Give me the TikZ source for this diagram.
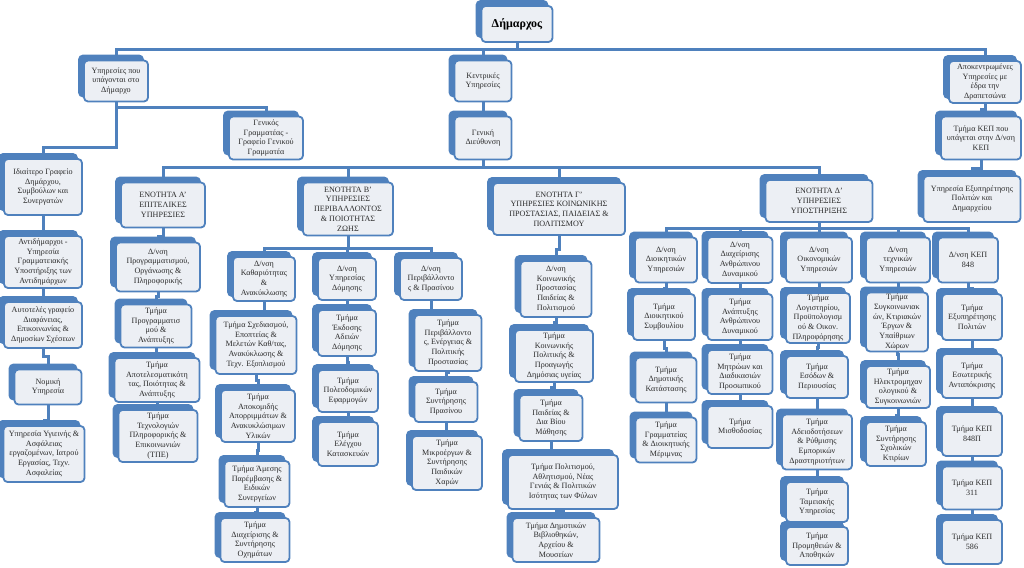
\documentclass[tikz,border=0pt]{standalone}
\usepackage{fontspec}
\setmainfont{Liberation Serif}
\usetikzlibrary{calc,shadows}
\definecolor{steel}{HTML}{4F81BD}
\definecolor{boxfill}{HTML}{ECEFF4}
\definecolor{ink}{HTML}{2B2B2B}
\newcommand{\unitfont}{\fontsize{8.1}{9.7}\selectfont}

\begin{document}
\begin{tikzpicture}[
  x=1pt, y=-1pt,
  unit/.style={draw=steel, fill=boxfill, line width=1.8pt,
               rounded corners=4pt, align=center, inner sep=1.5pt,
               font=\unitfont, text=ink,
               copy shadow={shadow xshift=-5pt, shadow yshift=5pt,
                            fill=steel, draw=steel}},
  head/.style={unit, font=\fontsize{12}{14}\selectfont\bfseries, text=black},
  link/.style={draw=steel, line width=3pt},
  vh/.style={to path={(\tikztostart) |- ($(\tikztostart)!.5!(\tikztotarget)$)
                      -| (\tikztotarget)}},
]
\useasboundingbox (0,0) rectangle (1024,567);

% top levels
\node[head, minimum width=71pt, minimum height=36pt] (dimarchos) at (517,24) {Δήμαρχος};
\node[unit, minimum width=64pt, minimum height=41pt] (ypag) at (116,81)
  {Υπηρεσίες που\\ υπάγονται στο\\ Δήμαρχο};
\node[unit, minimum width=57pt, minimum height=41pt] (kentr) at (483,81)
  {Κεντρικές\\ Υπηρεσίες};
\node[unit, minimum width=72pt, minimum height=42pt] (apok) at (985,82)
  {Αποκεντρωμένες\\ Υπηρεσίες με\\ έδρα την\\ Δραπετσώνα};
\node[unit, minimum width=74pt, minimum height=43pt] (gengram) at (266,138)
  {Γενικός\\ Γραμματέας -\\ Γραφείο Γενικού\\ Γραμματέα};
\node[unit, minimum width=57pt, minimum height=43pt] (gendiey) at (483,138)
  {Γενική\\ Διεύθυνση};
\node[unit, minimum width=80pt, minimum height=43pt] (kepdn) at (981,138)
  {Τμήμα ΚΕΠ που\\ υπάγεται στην Δ/νση\\ ΚΕΠ};
\node[unit, minimum width=97pt, minimum height=46pt] (exyp) at (972,199)
  {Υπηρεσία Εξυπηρέτησης\\ Πολιτών και\\ Δημαρχείου};

% services under the mayor
\node[unit, minimum width=78pt, minimum height=56pt] (idiait) at (43,187)
  {Ιδιαίτερο Γραφείο\\ Δημάρχου,\\ Συμβούλων και\\ Συνεργατών};
\node[unit, minimum width=78pt, minimum height=52pt] (antid) at (43,262)
  {Αντιδήμαρχοι -\\ Υπηρεσία\\ Γραμματειακής\\ Υποστήριξης των\\ Αντιδημάρχων};
\node[unit, minimum width=78pt, minimum height=46pt] (autot) at (43,325)
  {Αυτοτελές γραφείο\\ Διαφάνειας,\\ Επικοινωνίας \&\\ Δημοσίων Σχέσεων};
\node[unit, minimum width=67pt, minimum height=35pt] (nomiki) at (48,387)
  {Νομική\\ Υπηρεσία};
\node[unit, minimum width=81pt, minimum height=56pt] (ygieini) at (44,454)
  {Υπηρεσία Υγιεινής \&\\ Ασφάλειας\\ εργαζομένων, Ιατρού\\ Εργασίας, Τεχν.\\ Ασφαλείας};

% unit A
\node[unit, minimum width=84pt, minimum height=45pt] (enA) at (163,205)
  {ΕΝΟΤΗΤΑ Α'\\ ΕΠΙΤΕΛΙΚΕΣ\\ ΥΠΗΡΕΣΙΕΣ};
\node[unit, minimum width=84pt, minimum height=49pt] (dnprog) at (158,267)
  {Δ/νση\\ Προγραμματισμού,\\ Οργάνωσης \&\\ Πληροφορικής};
\node[unit, minimum width=71pt, minimum height=43pt] (tprog) at (156,326)
  {Τμήμα\\ Προγραμματισ\\ μού \&\\ Ανάπτυξης};
\node[unit, minimum width=85pt, minimum height=44pt] (tapot) at (157,380)
  {Τμήμα\\ Αποτελεσματικότη\\ τας, Ποιότητας \&\\ Ανάπτυξης};
\node[unit, minimum width=79pt, minimum height=52pt] (ttpe) at (158,436)
  {Τμήμα\\ Τεχνολογιών\\ Πληροφορικής \&\\ Επικοινωνιών\\ (ΤΠΕ)};

% unit B
\node[unit, minimum width=90pt, minimum height=53pt] (enB) at (348,209)
  {ΕΝΟΤΗΤΑ Β'\\ ΥΠΗΡΕΣΙΕΣ\\ ΠΕΡΙΒΑΛΛΟΝΤΟΣ\\ \& ΠΟΙΟΤΗΤΑΣ\\ ΖΩΗΣ};
\node[unit, minimum width=62pt, minimum height=44pt] (dnkath) at (264,279)
  {Δ/νση\\ Καθαριότητας\\ \&\\ Ανακύκλωσης};
\node[unit, minimum width=81pt, minimum height=58pt] (tsxed) at (256,345)
  {Τμήμα Σχεδιασμού,\\ Εποπτείας \&\\ Μελετών Καθ/τας,\\ Ανακύκλωσης \&\\ Τεχν. Εξοπλισμού};
\node[unit, minimum width=74pt, minimum height=52pt] (tapok) at (258,416)
  {Τμήμα\\ Αποκομιδής\\ Απορριμμάτων \&\\ Ανακυκλώσιμων\\ Υλικών};
\node[unit, minimum width=65pt, minimum height=46pt] (tames) at (257,484)
  {Τμήμα Άμεσης\\ Παρέμβασης \&\\ Ειδικών\\ Συνεργείων};
\node[unit, minimum width=69pt, minimum height=44pt] (tdiax) at (255,540)
  {Τμήμα\\ Διαχείρισης \&\\ Συντήρησης\\ Οχημάτων};
\node[unit, minimum width=58pt, minimum height=42pt] (dndom) at (347,279)
  {Δ/νση\\ Υπηρεσίας\\ Δόμησης};
\node[unit, minimum width=58pt, minimum height=46pt] (tekd) at (347,333)
  {Τμήμα\\ Έκδοσης\\ Αδειών\\ Δόμησης};
\node[unit, minimum width=60pt, minimum height=42pt] (tpoleod) at (348,391)
  {Τμήμα\\ Πολεοδομικών\\ Εφαρμογών};
\node[unit, minimum width=60pt, minimum height=44pt] (telegx) at (348,444)
  {Τμήμα\\ Ελέγχου\\ Κατασκευών};
\node[unit, minimum width=62pt, minimum height=42pt] (dnperiv) at (431,279)
  {Δ/νση\\ Περιβάλλοντο\\ ς \& Πρασίνου};
\node[unit, minimum width=67pt, minimum height=56pt] (tperiv) at (448,343)
  {Τμήμα\\ Περιβάλλοντο\\ ς, Ενέργειας \&\\ Πολιτικής\\ Προστασίας};
\node[unit, minimum width=63pt, minimum height=40pt] (tprasino) at (446,402)
  {Τμήμα\\ Συντήρησης\\ Πρασίνου};
\node[unit, minimum width=70pt, minimum height=54pt] (tmikro) at (447,463)
  {Τμήμα\\ Μικροέργων \&\\ Συντήρησης\\ Παιδικών\\ Χαρών};

% unit C
\node[unit, minimum width=132pt, minimum height=52pt] (enG) at (559,209)
  {ΕΝΟΤΗΤΑ Γ'\\ ΥΠΗΡΕΣΙΕΣ ΚΟΙΝΩΝΙΚΗΣ\\ ΠΡΟΣΤΑΣΙΑΣ, ΠΑΙΔΕΙΑΣ \&\\ ΠΟΛΙΤΙΣΜΟΥ};
\node[unit, minimum width=71pt, minimum height=56pt] (dnkoin) at (556,289)
  {Δ/νση\\ Κοινωνικής\\ Προστασίας\\ Παιδείας \&\\ Πολιτισμού};
\node[unit, minimum width=78pt, minimum height=52pt] (tkoin) at (554,356)
  {Τμήμα\\ Κοινωνικής\\ Πολιτικής \&\\ Προαγωγής\\ Δημόσιας υγείας};
\node[unit, minimum width=63pt, minimum height=46pt] (tpaid) at (551,418)
  {Τμήμα\\ Παιδείας \&\\ Δια Βίου\\ Μάθησης};
\node[unit, minimum width=110pt, minimum height=54pt] (tpolit) at (563,482)
  {Τμήμα Πολιτισμού,\\ Αθλητισμού, Νέας\\ Γενιάς \& Πολιτικών\\ Ισότητας των Φύλων};
\node[unit, minimum width=87pt, minimum height=44pt] (tvivl) at (556,540)
  {Τμήμα Δημοτικών\\ Βιβλιοθηκών,\\ Αρχείου \&\\ Μουσείων};

% unit D
\node[unit, minimum width=107pt, minimum height=42pt] (enD) at (819,201)
  {ΕΝΟΤΗΤΑ Δ'\\ ΥΠΗΡΕΣΙΕΣ\\ ΥΠΟΣΤΗΡΙΞΗΣ};
\node[unit, minimum width=62pt, minimum height=45pt] (dndioik) at (666,260)
  {Δ/νση\\ Διοικητικών\\ Υπηρεσιών};
\node[unit, minimum width=62pt, minimum height=46pt] (tds) at (664,317)
  {Τμήμα\\ Διοικητικού\\ Συμβουλίου};
\node[unit, minimum width=61pt, minimum height=45pt] (tdk) at (666,380)
  {Τμήμα\\ Δημοτικής\\ Κατάστασης};
\node[unit, minimum width=61pt, minimum height=45pt] (tgram) at (666,440)
  {Τμήμα\\ Γραμματείας\\ \& Διοικητικής\\ Μέριμνας};
\node[unit, minimum width=65pt, minimum height=46pt] (dnanthr) at (740,260)
  {Δ/νση\\ Διαχείρισης\\ Ανθρώπινου\\ Δυναμικού};
\node[unit, minimum width=65pt, minimum height=46pt] (tanapt) at (740,317)
  {Τμήμα\\ Ανάπτυξης\\ Ανθρώπινου\\ Δυναμικού};
\node[unit, minimum width=65pt, minimum height=44pt] (tmitr) at (740,372)
  {Τμήμα\\ Μητρώων και\\ Διαδικασιών\\ Προσωπικού};
\node[unit, minimum width=65pt, minimum height=42pt] (tmisth) at (740,427)
  {Τμήμα\\ Μισθοδοσίας};
\node[unit, minimum width=66pt, minimum height=45pt] (dnoik) at (819,260)
  {Δ/νση\\ Οικονομικών\\ Υπηρεσιών};
\node[unit, minimum width=64pt, minimum height=50pt] (tlog) at (818,318)
  {Τμήμα\\ Λογιστηρίου,\\ Προϋπολογισμ\\ ού \& Οικον.\\ Πληροφόρησης};
\node[unit, minimum width=62pt, minimum height=42pt] (tesod) at (817,377)
  {Τμήμα\\ Εσόδων \&\\ Περιουσίας};
\node[unit, minimum width=70pt, minimum height=55pt] (tadeio) at (817,442)
  {Τμήμα\\ Αδειοδοτήσεων\\ \& Ρύθμισης\\ Εμπορικών\\ Δραστηριοτήτων};
\node[unit, minimum width=62pt, minimum height=40pt] (ttam) at (817,502)
  {Τμήμα\\ Ταμειακής\\ Υπηρεσίας};
\node[unit, minimum width=62pt, minimum height=38pt] (tprom) at (817,546)
  {Τμήμα\\ Προμηθειών \&\\ Αποθηκών};
\node[unit, minimum width=64pt, minimum height=45pt] (dntex) at (898,260)
  {Δ/νση\\ τεχνικών\\ Υπηρεσιών};
\node[unit, minimum width=62pt, minimum height=58pt] (tsygk) at (897,322)
  {Τμήμα\\ Συγκοινωνιακ\\ ών, Κτιριακών\\ Έργων \&\\ Υπαίθριων\\ Χώρων};
\node[unit, minimum width=64pt, minimum height=42pt] (tilek) at (898,387)
  {Τμήμα\\ Ηλεκτρομηχαν\\ ολογικού \&\\ Συγκοινωνιών};
\node[unit, minimum width=60pt, minimum height=44pt] (tsxol) at (896,444)
  {Τμήμα\\ Συντήρησης\\ Σχολικών\\ Κτιρίων};
\node[unit, minimum width=60pt, minimum height=45pt] (dnkep) at (968,260)
  {Δ/νση ΚΕΠ\\ 848};
\node[unit, minimum width=60pt, minimum height=46pt] (texyp) at (972,317)
  {Τμήμα\\ Εξυπηρέτησης\\ Πολιτών};
\node[unit, minimum width=60pt, minimum height=44pt] (tesot) at (972,376)
  {Τμήμα\\ Εσωτερικής\\ Ανταπόκρισης};
\node[unit, minimum width=60pt, minimum height=44pt] (t848p) at (972,434)
  {Τμήμα ΚΕΠ\\ 848Π};
\node[unit, minimum width=60pt, minimum height=43pt] (t311) at (972,488)
  {Τμήμα ΚΕΠ\\ 311};
\node[unit, minimum width=60pt, minimum height=44pt] (t586) at (972,542)
  {Τμήμα ΚΕΠ\\ 586};

% buses
\coordinate (busM) at (0,50);
\coordinate (busG) at (0,167);
\coordinate (busB) at (0,248);
\coordinate (busD) at (0,228);

% connectors
\draw[link] (dimarchos.south) |- (ypag.north |- busM) -- (ypag.north);
\draw[link] (dimarchos.south) |- (apok.north |- busM) -- (apok.north);
\draw[link] (dimarchos.south) |- (kentr.north |- busM) -- (kentr.north);
\draw[link] (kentr) to[vh] (gendiey);
\draw[link] (ypag.south) |- (gengram.north |- 0,108) -- (gengram.north);
\draw[link] (ypag.south) |- (idiait.north |- 0,147) -- (idiait.north);
\draw[link] (apok) to[vh] (kepdn);
\draw[link] (kepdn) to[vh] (exyp);

\draw[link] (idiait) to[vh] (antid);
\draw[link] (antid) to[vh] (autot);
\draw[link] (autot) to[vh] (nomiki);
\draw[link] (nomiki) to[vh] (ygieini);

\draw[link] (gendiey.south) |- (enA.north |- busG) -- (enA.north);
\draw[link] (gendiey.south) |- (enB.north |- busG) -- (enB.north);
\draw[link] (gendiey.south) |- (enG.north |- busG) -- (enG.north);
\draw[link] (gendiey.south) |- (enD.north |- busG) -- (enD.north);

\draw[link] (enA) to[vh] (dnprog);
\draw[link] (dnprog) to[vh] (tprog);
\draw[link] (tprog) to[vh] (tapot);
\draw[link] (tapot) to[vh] (ttpe);

\draw[link] (enB.south) |- (dnkath.north |- busB) -- (dnkath.north);
\draw[link] (enB.south) |- (dndom.north |- busB) -- (dndom.north);
\draw[link] (enB.south) |- (dnperiv.north |- busB) -- (dnperiv.north);
\draw[link] (dnkath) to[vh] (tsxed);
\draw[link] (tsxed) to[vh] (tapok);
\draw[link] (tapok) to[vh] (tames);
\draw[link] (tames) to[vh] (tdiax);
\draw[link] (dndom) to[vh] (tekd);
\draw[link] (tekd) to[vh] (tpoleod);
\draw[link] (tpoleod) to[vh] (telegx);
\draw[link] (dnperiv) to[vh] (tperiv);
\draw[link] (tperiv) to[vh] (tprasino);
\draw[link] (tprasino) to[vh] (tmikro);

\draw[link] (enG) to[vh] (dnkoin);
\draw[link] (dnkoin) to[vh] (tkoin);
\draw[link] (tkoin) to[vh] (tpaid);
\draw[link] (tpaid) to[vh] (tpolit);
\draw[link] (tpolit) to[vh] (tvivl);

\draw[link] (enD.south) |- (dndioik.north |- busD) -- (dndioik.north);
\draw[link] (enD.south) |- (dnanthr.north |- busD) -- (dnanthr.north);
\draw[link] (enD.south) |- (dnoik.north |- busD) -- (dnoik.north);
\draw[link] (enD.south) |- (dntex.north |- busD) -- (dntex.north);
\draw[link] (enD.south) |- (dnkep.north |- busD) -- (dnkep.north);
\draw[link] (dndioik) to[vh] (tds);
\draw[link] (tds) to[vh] (tdk);
\draw[link] (tdk) to[vh] (tgram);
\draw[link] (dnanthr) to[vh] (tanapt);
\draw[link] (tanapt) to[vh] (tmitr);
\draw[link] (tmitr) to[vh] (tmisth);
\draw[link] (dnoik) to[vh] (tlog);
\draw[link] (tlog) to[vh] (tesod);
\draw[link] (tesod) to[vh] (tadeio);
\draw[link] (tadeio) to[vh] (ttam);
\draw[link] (ttam) to[vh] (tprom);
\draw[link] (dntex) to[vh] (tsygk);
\draw[link] (tsygk) to[vh] (tilek);
\draw[link] (tilek) to[vh] (tsxol);
\draw[link] (dnkep) to[vh] (texyp);
\draw[link] (texyp) to[vh] (tesot);
\draw[link] (tesot) to[vh] (t848p);
\draw[link] (t848p) to[vh] (t311);
\draw[link] (t311) to[vh] (t586);
\end{tikzpicture}
\end{document}
